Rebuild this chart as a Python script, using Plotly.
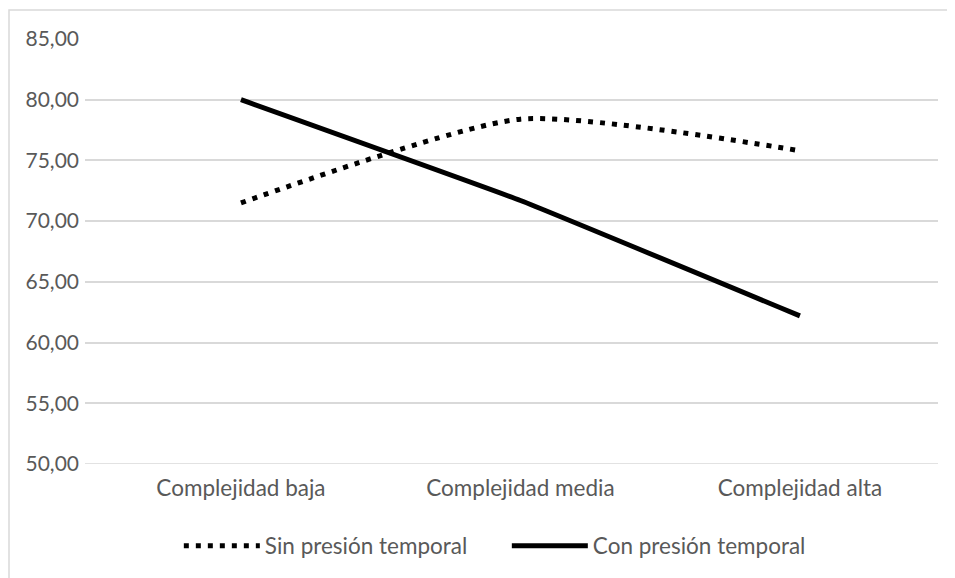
import plotly.graph_objects as go

categories = ["Complejidad baja", "Complejidad media", "Complejidad alta"]
sin_presion = [71.5, 78.4, 75.8]
con_presion = [80.0, 71.7, 62.2]

# page body adds an 8px offset, margins are compensated for it
W, H = 955, 578
L, R, T, B = 77, 25, 31, 122
pw, ph = W - L - R, H - T - B

fig = go.Figure()

fig.add_trace(go.Scatter(
    x=categories, y=sin_presion, name="Sin presión temporal",
    mode="lines", line=dict(color="black", width=5, dash="5px,7px", shape="spline", smoothing=0.6),
))
fig.add_trace(go.Scatter(
    x=categories, y=con_presion, name="Con presión temporal",
    mode="lines", line=dict(color="black", width=5, shape="spline", smoothing=0.3),
))

# chart border (top and left visible, rest runs off the window)
fig.add_shape(type="rect", xref="paper", yref="paper", layer="below",
              x0=(1 - L) / pw, x1=(980 - L) / pw,
              y0=(H - B - 620) / ph, y1=(H - B - 2) / ph,
              line=dict(color="#d9d9d9", width=1.5))

# bottom axis line at 50
fig.add_shape(type="line", xref="paper", yref="y", x0=0, x1=1, y0=50, y1=50,
              line=dict(color="#d9d9d9", width=1.5), layer="below")

fig.update_layout(
    width=W, height=H,
    margin=dict(l=L, r=R, t=T, b=B),
    paper_bgcolor="white", plot_bgcolor="white",
    separators=",.",
    font=dict(family="Lato", size=22, color="#595959"),
    xaxis=dict(type="category", range=[-0.558, 2.494], showgrid=False,
               showline=False, ticks="", tickfont=dict(size=22.5), ticklabelstandoff=8),
    yaxis=dict(range=[50, 85], dtick=5, tickformat=".2f", showgrid=True,
               gridcolor="#d9d9d9", gridwidth=1.5, zeroline=False, showline=False,
               ticks="", tickfont=dict(size=21), ticklabelstandoff=5),
    showlegend=True,
    legend=dict(orientation="h", x=0.110, xanchor="left", y=-0.193, yanchor="middle",
                font=dict(size=22.5), itemwidth=76,
                entrywidth=237, entrywidthmode="pixels"),
)

fig.write_html("out.html")
